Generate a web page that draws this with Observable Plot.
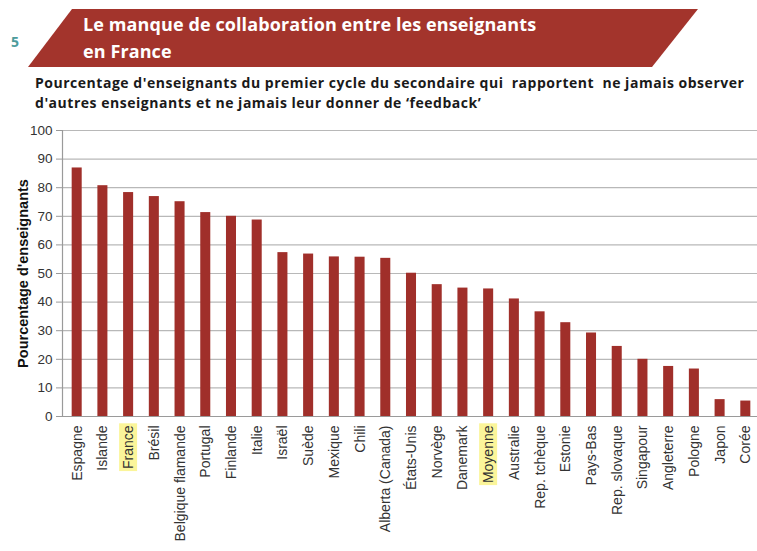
<!DOCTYPE html>
<html>
<head>
<meta charset="utf-8">
<script src="https://cdn.jsdelivr.net/npm/d3@7"></script>
<script src="https://cdn.jsdelivr.net/npm/@observablehq/plot@0.6"></script>
<style>
  html, body { margin: 0; padding: 0; background: #fff; }
  body { width: 757px; height: 551px; overflow: hidden; position: relative; }
  #header { position: relative; width: 757px; height: 118px; }
  #banner { position: absolute; left: 0; top: 0; }
  .num { position: absolute; left: 11px; top: 32px; font: 700 14px "Open Sans", sans-serif; color: #4d9c9c; }
  .title { position: absolute; left: 83px; font: 700 18px "Open Sans", sans-serif; color: #fff; letter-spacing: 0.1px; white-space: nowrap; }
  .sub { position: absolute; left: 35px; font: 700 14px "Open Sans", sans-serif; color: #1a1a1a; white-space: nowrap; letter-spacing: 0.52px; }
  #chart svg { display: block; }
</style>
</head>
<body>
<div id="header">
  <svg id="banner" width="757" height="75">
    <polygon points="72,9 698,9 652,67 28,67" fill="#a3342c"></polygon>
  </svg>
  <div class="num">5</div>
  <div class="title" style="top:12px">Le manque de collaboration entre les enseignants</div>
  <div class="title" style="top:39px">en France</div>
  <div class="sub" style="top:73px">Pourcentage d'enseignants du premier cycle du secondaire qui&nbsp; rapportent&nbsp; ne jamais observer</div>
  <div class="sub" style="top:93px">d'autres enseignants et ne jamais leur donner de ‘feedback’</div>
</div>
<div id="chart"></div>
<script>
const countries = ["Espagne","Islande","France","Brésil","Belgique flamande","Portugal","Finlande","Italie","Israël","Suède","Mexique","Chili","Alberta (Canada)","États-Unis","Norvège","Danemark","Moyenne","Australie","Rep. tchèque","Estonie","Pays-Bas","Rep. slovaque","Singapour","Angleterre","Pologne","Japon","Corée"];
const values = [86.9,80.7,78.3,76.9,75.1,71.3,70.0,68.7,57.3,56.8,55.8,55.7,55.3,50.1,46.1,44.9,44.6,41.1,36.6,32.8,29.2,24.5,20.0,17.5,16.6,5.9,5.4];
const highlighted = ["France","Moyenne"];
const yTicks = [0,10,20,30,40,50,60,70,80,90,100];

const data = countries.map((c, i) => ({country: c, value: values[i]}));

const chart = Plot.plot({
  width: 757,
  height: 433,
  marginTop: 12,
  marginBottom: 135,
  marginLeft: 62,
  marginRight: 0,
  style: {fontFamily: "'Liberation Sans', Arial, sans-serif", color: "#333", background: "#fff"},
  x: {domain: countries, range: [62, 760], round: false, paddingInner: 0.61, paddingOuter: 0.376, label: null},
  y: {domain: [0, 100], label: null},
  marks: [
    Plot.gridY(yTicks, {stroke: "#b8b8b8", strokeOpacity: 1, strokeWidth: 1.2}),
    Plot.barY(data, {x: "country", y: "value", fill: "#a02f2a"}),
    Plot.ruleY([0], {stroke: "#9a9a9a", strokeWidth: 1.2}),
    Plot.frame({anchor: "left", stroke: "#9a9a9a", strokeWidth: 1.2}),
    Plot.axisY({ticks: yTicks, tickSize: 6, tickPadding: 4, fontSize: 13.5, stroke: "#9a9a9a", label: "Pourcentage d'enseignants", labelAnchor: "center", labelArrow: "none", labelOffset: 45}),
    Plot.axisX({tickRotate: -90, tickSize: 0, tickPadding: 9, fontSize: 14, label: null})
  ]
});
document.getElementById("chart").appendChild(chart);

// style y-axis label as bold
chart.querySelectorAll("[aria-label='y-axis label'] text").forEach(t => {
  t.setAttribute("font-weight", "bold");
  t.setAttribute("font-size", "14.5");
  t.setAttribute("fill", "#111");
});

// yellow highlight behind selected tick labels
chart.querySelectorAll("[aria-label='x-axis tick label'] text").forEach(t => {
  if (highlighted.includes(t.textContent)) {
    const b = t.getBBox();
    const ns = "http://www.w3.org/2000/svg";
    const r = document.createElementNS(ns, "rect");
    r.setAttribute("x", b.x - 2);
    r.setAttribute("y", b.y - 1);
    r.setAttribute("width", b.width + 4);
    r.setAttribute("height", b.height + 2);
    r.setAttribute("fill", "#fbf59a");
    const tr = t.getAttribute("transform");
    if (tr) r.setAttribute("transform", tr);
    t.parentNode.insertBefore(r, t);
  }
});
</script>
</body>
</html>
